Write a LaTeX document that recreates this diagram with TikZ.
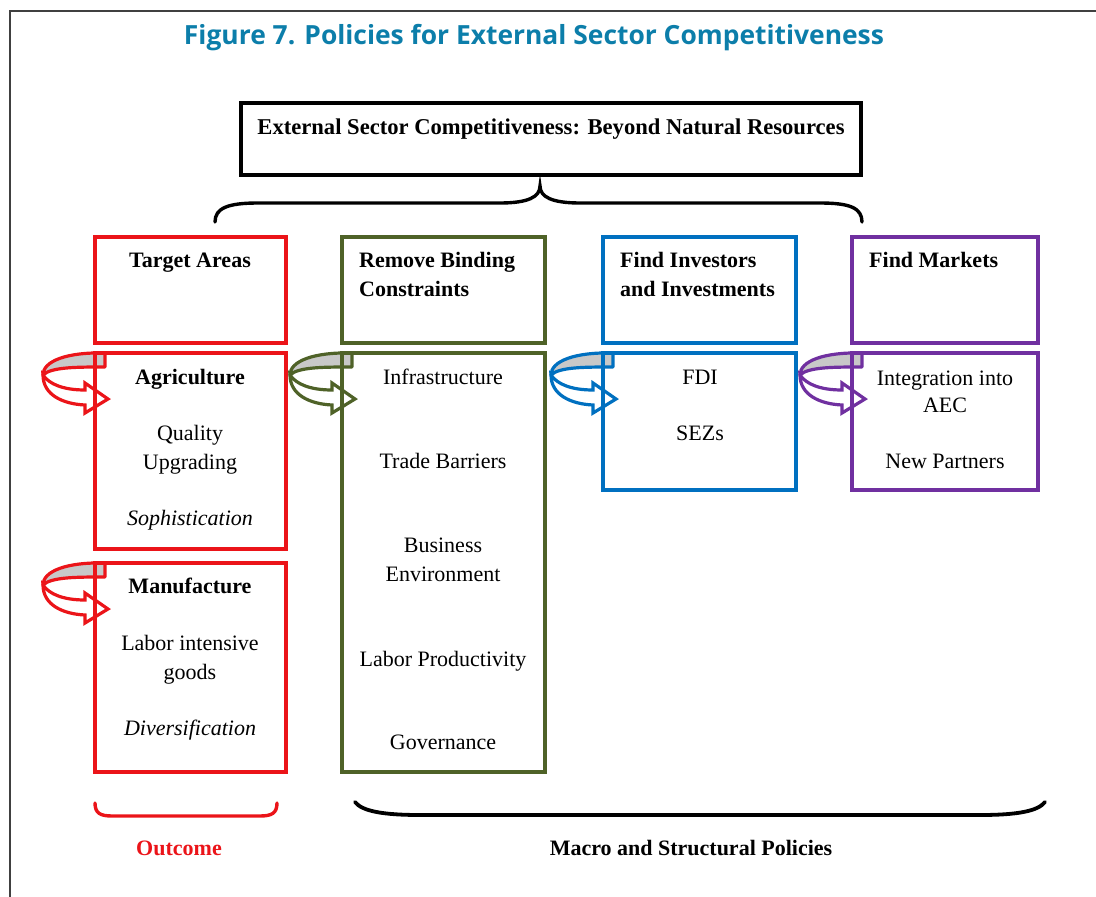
\documentclass[tikz,border=0pt]{standalone}
\usepackage{fontspec}
\setmainfont{Liberation Serif}
\newfontfamily\titlefont{Open Sans}
\definecolor{cred}{RGB}{235,20,25}
\definecolor{cgreen}{RGB}{79,98,40}
\definecolor{cblue}{RGB}{0,112,192}
\definecolor{cpurple}{RGB}{112,48,160}
\definecolor{ctitle}{RGB}{12,126,170}
\definecolor{cband}{RGB}{200,200,200}
\tikzset{
  txt/.style={anchor=base, inner sep=0pt, font=\fontsize{22}{26}\selectfont},
  btxt/.style={anchor=base, inner sep=0pt, font=\fontsize{22}{26}\selectfont\bfseries},
  itxt/.style={anchor=base, inner sep=0pt, font=\fontsize{22}{26}\selectfont\itshape},
  box/.style={draw=#1, line width=3.4pt, rectangle, inner sep=0pt},
  brace/.style={line width=3.4pt, line cap=round},
}
\newcommand\turnarrow[3]{%
  \begin{scope}[shift={(#1,#2)}]
    \filldraw[draw=#3, fill=cband, line width=3.2pt, line join=round]
      (10,0) .. controls (-28,-1) and (-52,8) .. (-52,22)
      .. controls (-44,14) and (-18,14) .. (10,14) -- cycle;
    \filldraw[draw=#3, fill=white, line width=3.2pt, line join=miter]
      (-52,22) .. controls (-46,31) and (-32,37) .. (-10,37)
      -- (-10,30) -- (13,46) -- (-10,60) -- (-10,52)
      .. controls (-32,51) and (-52,42) .. (-52,22) -- cycle;
  \end{scope}}
\begin{document}
\begin{tikzpicture}[x=1pt,y=-1pt]
\useasboundingbox (0,0) rectangle (1096,897);
% frame
\draw[line width=2.2pt, black!75] (10,897) -- (10,11) -- (1096,11);
% title
\node[inner sep=0pt, text=ctitle, font=\titlefont\fontsize{26.4}{31}\selectfont\bfseries] (title) at (534,38) {Figure 7. Policies for External Sector Competitiveness};
% top box
\node[box=black, minimum width=620pt, minimum height=72pt] (top) at (551,139) {};
\node[btxt, font=\fontsize{22.6}{26}\selectfont\bfseries] (toptxt) at (551,134) {External Sector Competitiveness: Beyond Natural Resources};
% top brace
\draw[brace] (215,222) .. controls (215,208) and (228,203) .. (258,203) -- (500,203)
  .. controls (528,203) and (540,197) .. (540,186)
  .. controls (540,197) and (552,203) .. (580,203) -- (820,203)
  .. controls (850,203) and (862,208) .. (862,222);
% curved arrows
\turnarrow{95}{353}{cred}
\turnarrow{95}{563}{cred}
\turnarrow{342}{353}{cgreen}
\turnarrow{603}{353}{cblue}
\turnarrow{852}{353}{cpurple}
% boxes
\node[box=cred, minimum width=191pt, minimum height=106pt] (rh) at (190.5,290) {};
\node[box=cred, minimum width=191pt, minimum height=196pt] (r1) at (190.5,451) {};
\node[box=cred, minimum width=191pt, minimum height=209pt] (r2) at (190.5,667.5) {};
\node[box=cgreen, minimum width=203pt, minimum height=106pt] (gh) at (443.5,290) {};
\node[box=cgreen, minimum width=203pt, minimum height=419pt] (g1) at (443.5,562.5) {};
\node[box=cblue, minimum width=193pt, minimum height=106pt] (bh) at (699.5,290) {};
\node[box=cblue, minimum width=193pt, minimum height=137pt] (b1) at (699.5,421.5) {};
\node[box=cpurple, minimum width=186pt, minimum height=106pt] (ph) at (945,290) {};
\node[box=cpurple, minimum width=186pt, minimum height=137pt] (p1) at (945,421.5) {};
% header texts
\node[btxt] (rht) at (190,267) {Target Areas};
\node[btxt, anchor=base west] (ght1) at (359,267) {Remove Binding};
\node[btxt, anchor=base west] (ght2) at (359,296) {Constraints};
\node[btxt, anchor=base west] (bht1) at (620,267) {Find Investors};
\node[btxt, anchor=base west] (bht2) at (620,296) {and Investments};
\node[btxt, anchor=base west] (pht) at (869,267) {Find Markets};
% red column
\node[btxt] (ra) at (190,384) {Agriculture};
\node[txt] (rb) at (190,440) {Quality};
\node[txt] (rc) at (190,469) {Upgrading};
\node[itxt] (rd) at (190,525) {Sophistication};
\node[btxt] (re) at (190,593) {Manufacture};
\node[txt] (rf) at (190,650) {Labor intensive};
\node[txt] (rg) at (190,679) {goods};
\node[itxt] (rh2) at (190,735) {Diversification};
% green column
\node[txt] (ga) at (443,384) {Infrastructure};
\node[txt] (gb) at (443,468) {Trade Barriers};
\node[txt] (gc) at (443,552) {Business};
\node[txt] (gd) at (443,581) {Environment};
\node[txt] (ge) at (443,666) {Labor Productivity};
\node[txt] (gf) at (443,749) {Governance};
% blue column
\node[txt] (ba) at (700,384) {FDI};
\node[txt] (bb) at (700,440) {SEZs};
% purple column
\node[txt] (pa) at (945,385) {Integration into};
\node[txt] (pb) at (945,412) {AEC};
\node[txt] (pc) at (945,468) {New Partners};
% bottom braces
\draw[brace, draw=cred] (95,803) .. controls (95,813) and (100,816) .. (112,816) -- (260,816)
  .. controls (272,816) and (277,813) .. (277,803);
\draw[brace, line width=3.8pt] (355,802) .. controls (362,811) and (382,815) .. (420,815) -- (980,815)
  .. controls (1018,815) and (1038,811) .. (1045,802);
\node[btxt, text=cred] (outc) at (179,855) {Outcome};
\node[btxt] (macro) at (691,855) {Macro and Structural Policies};
\end{tikzpicture}
\end{document}
